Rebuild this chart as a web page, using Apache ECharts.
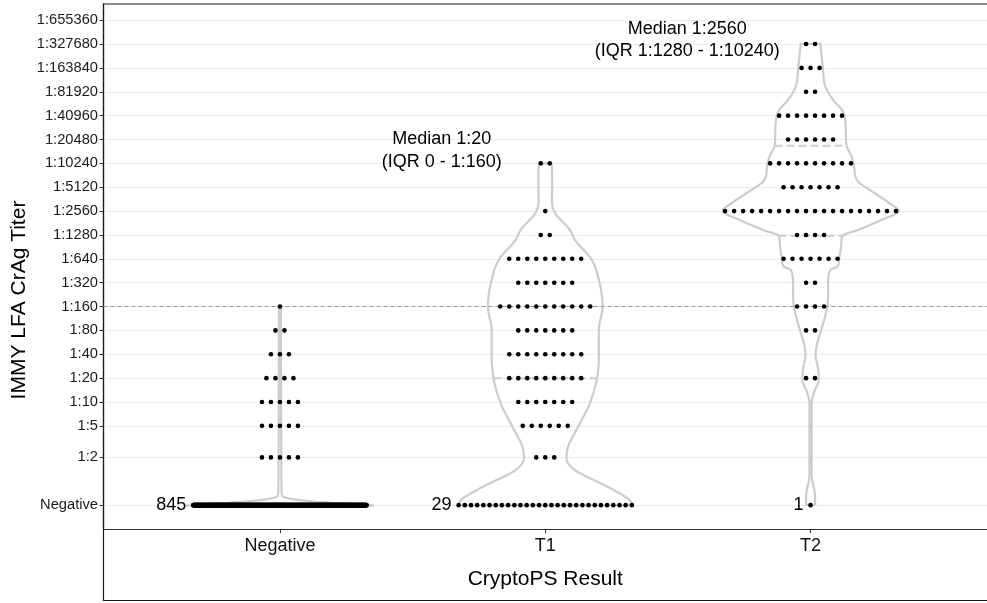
<!DOCTYPE html>
<html>
<head>
<meta charset="utf-8">
<script src="https://cdn.jsdelivr.net/npm/echarts@6/dist/echarts.min.js"></script>
<style>
html, body { margin: 0; padding: 0; background: #fff; }
#main { width: 987px; height: 603px; }
</style>
</head>
<body>
<div id="main"></div>
<script>
// groups on the x axis
var groups = ['Negative', 'T1', 'T2'];

// y levels (Negative is drawn one doubling below 1:1)
var tickLabels = ['Negative', '1:2', '1:5', '1:10', '1:20', '1:40', '1:80', '1:160', '1:320', '1:640',
    '1:1280', '1:2560', '1:5120', '1:10240', '1:20480', '1:40960', '1:81920', '1:163840', '1:327680', '1:655360'];
var tickTiters = [0.5, 2, 5, 10, 20, 40, 80, 160, 320, 640,
    1280, 2560, 5120, 10240, 20480, 40960, 81920, 163840, 327680, 655360];

// number of patients at each level, same order as tickLabels
var negCounts = [845, 5, 5, 5, 4, 3, 2, 1, 0, 0, 0, 0, 0, 0, 0, 0, 0, 0, 0, 0];
var t1Counts  = [29, 3, 6, 7, 9, 9, 7, 11, 7, 9, 2, 1, 0, 2, 0, 0, 0, 0, 0, 0];
var t2Counts  = [1, 0, 0, 0, 2, 0, 2, 4, 2, 7, 4, 20, 7, 10, 6, 8, 2, 3, 2, 0];

// violin outlines: log2 titer -> half width (x units)
var negViolinY = [-1.02, -0.95, -0.87, -0.78, -0.70, -0.62, -0.40, 7.32];
var negViolinW = [0.354, 0.261, 0.149, 0.067, 0.026, 0.009, 0.006, 0.004];
var t1ViolinY = [-1, -0.78, -0.23, 0.47, 0.96, 1.45, 2.29, 3.27, 4.32, 5.29, 6.34, 7.32, 8.30, 9.30, 10.11, 10.53, 11.24, 11.79, 12.35, 13.18, 13.32];
var t1ViolinW = [0.328, 0.317, 0.235, 0.112, 0.080, 0.086, 0.124, 0.168, 0.195, 0.202, 0.202, 0.216, 0.205, 0.174, 0.112, 0.093, 0.037, 0.025, 0.026, 0.025, 0.022];
var t2ViolinY = [-0.99, -0.50, 0.05, 0.35, 2.86, 3.27, 3.69, 4.30, 4.80, 5.29, 5.78, 6.48, 7.32, 7.88, 8.30, 8.86, 8.99, 9.32, 9.97, 10.29, 10.53, 10.95, 11.33, 11.65, 12.07, 12.63, 13.18, 13.60, 14.06, 14.58, 15.28, 15.55, 15.97, 16.54, 17.38, 18.33];
var t2ViolinW = [0.017, 0.016, 0.006, 0.004, 0.004, 0.004, 0.012, 0.031, 0.027, 0.019, 0.025, 0.044, 0.063, 0.066, 0.066, 0.075, 0.100, 0.108, 0.116, 0.121, 0.179, 0.267, 0.332, 0.298, 0.242, 0.174, 0.164, 0.155, 0.136, 0.133, 0.128, 0.119, 0.086, 0.056, 0.046, 0.037];

// quantile lines drawn in the violins (log2 titer)
var t1Quantiles = [4.32];
var t2Quantiles = [10.29, 14.06];

var cutoffTiter = 160;

var annoX = [1.61, 2.535];
var annoY = [13.87, 18.49];
var annoText = ['Median 1:20\n(IQR 0 - 1:160)', 'Median 1:2560\n(IQR 1:1280 - 1:10240)'];

var FONT = 'Liberation Sans, Arial, Helvetica, sans-serif';
var DOT_STEP = 0.0339;   // gap between dots, x units
var ROW_MAX = 0.653;     // widest row, x units
var VIOLIN_COLOR = '#cccccc';

var tickValues = tickTiters.map(function (t) { return Math.log2(t); });

function labelFor(v) {
    for (var i = 0; i < tickValues.length; i++) {
        if (Math.abs(tickValues[i] - v) < 1e-6) return tickLabels[i];
    }
    return '';
}

// monotone cubic through the outline points
function makeInterp(xs, ys) {
    var n = xs.length, d = [], m = [];
    for (var i = 0; i < n - 1; i++) d.push((ys[i + 1] - ys[i]) / (xs[i + 1] - xs[i]));
    m[0] = d[0]; m[n - 1] = d[n - 2];
    for (i = 1; i < n - 1; i++) m[i] = d[i - 1] * d[i] <= 0 ? 0 : (d[i - 1] + d[i]) / 2;
    for (i = 0; i < n - 1; i++) {
        if (d[i] === 0) { m[i] = 0; m[i + 1] = 0; continue; }
        var a = m[i] / d[i], b = m[i + 1] / d[i], s = a * a + b * b;
        if (s > 9) { var t = 3 / Math.sqrt(s); m[i] = t * a * d[i]; m[i + 1] = t * b * d[i]; }
    }
    return function (x) {
        var k = 0;
        while (k < n - 2 && x > xs[k + 1]) k++;
        var h = xs[k + 1] - xs[k], t = (x - xs[k]) / h;
        var t2 = t * t, t3 = t2 * t;
        return (2 * t3 - 3 * t2 + 1) * ys[k] + (t3 - 2 * t2 + t) * h * m[k] +
            (-2 * t3 + 3 * t2) * ys[k + 1] + (t3 - t2) * h * m[k + 1];
    };
}

function violinSeries(center, vy, vw, quants) {
    var f = makeInterp(vy, vw);
    return {
        type: 'custom',
        z: 3,
        silent: true,
        data: [[center, vy[0]]],
        renderItem: function (params, api) {
            var right = [], left = [];
            for (var k = 0; k < vy.length - 1; k++) {
                for (var s = 0; s < 10; s++) {
                    var y = vy[k] + (vy[k + 1] - vy[k]) * s / 10;
                    var w = f(y);
                    right.push(api.coord([center + w, y]));
                    left.unshift(api.coord([center - w, y]));
                }
            }
            var yl = vy[vy.length - 1], wl = vw[vw.length - 1];
            right.push(api.coord([center + wl, yl]));
            left.unshift(api.coord([center - wl, yl]));
            var children = [{
                type: 'polygon',
                shape: { points: right.concat(left) },
                style: { fill: null, stroke: VIOLIN_COLOR, lineWidth: 2.2 }
            }];
            quants.forEach(function (q) {
                var w = f(q);
                var p1 = api.coord([center - w, q]), p2 = api.coord([center + w, q]);
                children.push({
                    type: 'line',
                    shape: { x1: p1[0], y1: p1[1], x2: p2[0], y2: p2[1] },
                    style: { stroke: VIOLIN_COLOR, lineWidth: 2, lineDash: [8, 4] }
                });
            });
            return { type: 'group', children: children };
        }
    };
}

function rowStep(n) {
    return n > 1 ? Math.min(DOT_STEP, ROW_MAX / (n - 1)) : DOT_STEP;
}

function dotData(center, counts) {
    var pts = [];
    counts.forEach(function (n, li) {
        var step = rowStep(n);
        for (var i = 0; i < n; i++) {
            pts.push([center + (i - (n - 1) / 2) * step, tickValues[li]]);
        }
    });
    return pts;
}

var allCounts = [negCounts, t1Counts, t2Counts];
var countPoints = allCounts.map(function (c, gi) {
    var n = c[0];
    return { value: [gi + 1 - (n - 1) / 2 * rowStep(n), tickValues[0]], count: n };
});

myChart = echarts.init(document.getElementById('main'));

var option = {
    animation: false,
    textStyle: { fontFamily: FONT },
    grid: { left: 103.5, top: 4, width: 893, height: 525, containLabel: false },
    xAxis: {
        type: 'value',
        min: 0.335,
        max: 3.665,
        axisLine: { onZero: false, lineStyle: { color: '#333', width: 1.2 } },
        axisTick: { customValues: [1, 2, 3], length: 4, lineStyle: { color: '#333' } },
        axisLabel: {
            customValues: [1, 2, 3],
            formatter: function (v) { return groups[Math.round(v) - 1]; },
            fontSize: 18, color: '#111', margin: 8, fontFamily: FONT
        },
        splitLine: { show: false },
        name: 'CryptoPS Result',
        nameLocation: 'middle',
        nameGap: 40,
        nameTextStyle: { fontSize: 21, color: '#000', fontFamily: FONT }
    },
    yAxis: {
        type: 'value',
        min: -2,
        max: 20,
        axisLine: { show: true, onZero: false, lineStyle: { color: '#1a1a1a', width: 1.2 } },
        axisTick: { show: true, customValues: tickValues, length: 4, lineStyle: { color: '#333' } },
        axisLabel: {
            customValues: tickValues,
            formatter: labelFor,
            fontSize: 14.7, color: '#1a1a1a', margin: 5.5, fontFamily: FONT
        },
        splitLine: { show: true, lineStyle: { color: '#ebebeb', width: 1 } }
    },
    graphic: [
        {
            type: 'rect',
            shape: { x: 103.5, y: 4, width: 900, height: 596.5 },
            style: { fill: null, stroke: '#1a1a1a', lineWidth: 1.2 },
            silent: true
        },
        {
            type: 'text',
            x: 19.5, y: 300,
            rotation: Math.PI / 2,
            style: {
                text: 'IMMY LFA CrAg Titer',
                fontSize: 21, fontFamily: FONT, fill: '#000',
                align: 'center', verticalAlign: 'middle'
            }
        }
    ],
    series: [
        {
            type: 'line',
            data: [],
            silent: true,
            z: 2,
            markLine: {
                silent: true,
                symbol: 'none',
                label: { show: false },
                lineStyle: { color: '#999', type: [4, 3], width: 1 },
                data: [{ yAxis: Math.log2(cutoffTiter) }]
            }
        },
        violinSeries(1, negViolinY, negViolinW, []),
        violinSeries(2, t1ViolinY, t1ViolinW, t1Quantiles),
        violinSeries(3, t2ViolinY, t2ViolinW, t2Quantiles),
        {
            type: 'scatter',
            z: 5,
            silent: true,
            symbolSize: 4.6,
            itemStyle: { color: '#000', opacity: 1 },
            data: dotData(1, negCounts).concat(dotData(2, t1Counts), dotData(3, t2Counts))
        },
        {
            type: 'scatter',
            z: 6,
            silent: true,
            symbolSize: 0,
            itemStyle: { opacity: 1 },
            data: countPoints,
            label: {
                show: true, position: 'left', distance: 7, opacity: 1,
                fontSize: 18, color: '#000', textBorderWidth: 0, fontFamily: FONT,
                formatter: function (p) { return String(p.data.count); }
            }
        },
        {
            type: 'scatter',
            z: 6,
            silent: true,
            symbolSize: 0,
            itemStyle: { opacity: 1 },
            data: annoX.map(function (x, i) { return { value: [x, annoY[i]], text: annoText[i] }; }),
            label: {
                show: true, position: [0, 0], align: 'center', verticalAlign: 'middle', opacity: 1,
                fontSize: 18, lineHeight: 22.7, color: '#000', textBorderWidth: 0, fontFamily: FONT,
                formatter: function (p) { return p.data.text; }
            }
        }
    ]
};
myChart.setOption(option);
</script>
</body>
</html>
